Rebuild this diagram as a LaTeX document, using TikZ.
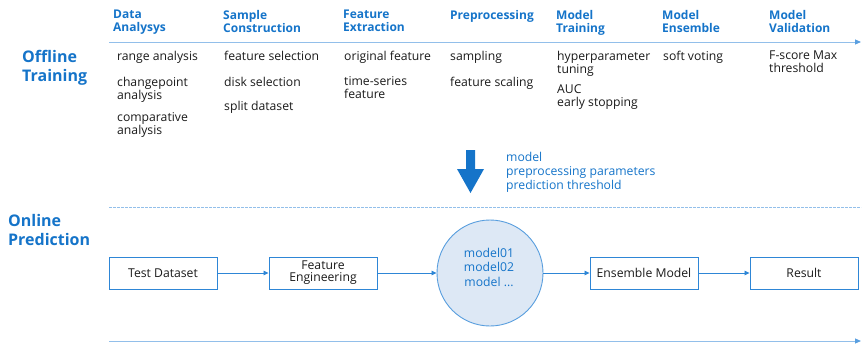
\documentclass[tikz,border=0pt]{standalone}
\usepackage{fontspec}
\setmainfont{Open Sans}
\usetikzlibrary{arrows.meta,shapes.geometric}
\definecolor{hdblue}{HTML}{1574C9}
\definecolor{lineblue}{HTML}{92BFEA}
\definecolor{tipblue}{HTML}{5A9FE0}
\definecolor{boxblue}{HTML}{2E86D6}
\definecolor{circfill}{HTML}{DDE8F5}
\definecolor{bodytext}{HTML}{1A1A1A}
\tikzset{
  hdr/.style={anchor=north west, font=\fontsize{12}{13}\selectfont\bfseries, text=hdblue, align=left, inner sep=0pt},
  side/.style={anchor=north west, font=\fontsize{16}{19.5}\selectfont\bfseries, text=hdblue, align=left, inner sep=0pt},
  item/.style={anchor=north west, font=\fontsize{12.2}{13}\selectfont, text=bodytext, align=left, inner sep=0pt},
  stagebox/.style={draw=boxblue, line width=0.9pt, minimum width=108pt, minimum height=32pt, inner sep=0pt, align=center, text=bodytext, font=\fontsize{12.2}{12}\selectfont},
  flow/.style={draw=boxblue, line width=0.8pt, -{Triangle[length=5pt,width=4.5pt]}},
  axis/.style={draw=lineblue, line width=1pt, -{Triangle[length=6pt,width=5pt,color=tipblue]}},
}
\begin{document}
\begin{tikzpicture}[x=1pt,y=-1pt]
\useasboundingbox (0,0) rectangle (862,343);

% offline training timeline
\coordinate (tl0) at (109,42);
\coordinate (tl1) at (861,42);
\draw[axis] (tl0) -- (tl1);
\node[side] (offline) at (22,50) {Offline\\Training};

% stage headers
\node[hdr] (h1) at (113,10) {Data\\Analysys};
\node[hdr] (h2) at (223,10) {Sample\\Construction};
\node[hdr] (h3) at (343,10) {Feature\\Extraction};
\node[hdr] (h4) at (450,10) {Preprocessing};
\node[hdr] (h5) at (556,10) {Model\\Training};
\node[hdr] (h6) at (662,10) {Model\\Ensemble};
\node[hdr] (h7) at (769,10) {Model\\Validation};

% stage contents
\node[item] (a1) at (117,50.7) {range analysis};
\node[item] (a2) at (117,76.7) {changepoint\\analysis};
\node[item] (a3) at (117,112.7) {comparative\\analysis};
\node[item] (b1) at (224,50.7) {feature selection};
\node[item] (b2) at (224,76.7) {disk selection};
\node[item] (b3) at (224,100.7) {split dataset};
\node[item] (c1) at (344,50.7) {original feature};
\node[item] (c2) at (344,76.7) {time-series\\feature};
\node[item] (d1) at (450,50.7) {sampling};
\node[item] (d2) at (450,76.7) {feature scaling};
\node[item] (e1) at (557,50.7) {hyperparameter\\tuning};
\node[item] (e2) at (557,84.2) {AUC\\early stopping};
\node[item] (f1) at (663,50.7) {soft voting};
\node[item] (g1) at (769,50.7) {F-score Max\\threshold};

% hand-over from training to prediction
\fill[hdblue] (466,150) -- (475,150) -- (475,169) -- (484,169) -- (470.5,193) -- (457,169) -- (466,169) -- cycle;
\node[anchor=north west, inner sep=0pt, text=hdblue, align=left, font=\fontsize{12.2}{14}\selectfont] (handover) at (506,151.7) {model\\preprocessing parameters\\prediction threshold};

% online prediction lanes
\coordinate (dl0) at (109,207);
\coordinate (dl1) at (861,207);
\draw[draw=lineblue, dash pattern=on 2.6pt off 1.4pt, line width=1pt] (dl0) -- (dl1);
\node[side, font=\fontsize{16}{19}\selectfont\bfseries] (online) at (8,213.8) {Online\\Prediction};
\coordinate (bl0) at (109,341);
\coordinate (bl1) at (861,341);
\draw[axis] (bl0) -- (bl1);

% prediction pipeline
\node[stagebox] (test) at (163,273) {Test Dataset};
\node[stagebox] (feat) at (323,273) {Feature\\Engineering};
\node[circle, draw=boxblue!80, fill=circfill, line width=0.9pt, minimum size=106pt, inner sep=0pt] (models) at (490,273) {};
\node[align=center, inner sep=0pt, text=hdblue, font=\fontsize{12.2}{14.5}\selectfont] (modellist) at (489,267) {model01\\model02\\model ...};
\node[stagebox] (ens) at (644,273) {Ensemble Model};
\node[stagebox] (res) at (804,273) {Result};

\draw[flow] (test) -- (feat);
\draw[flow] (feat) -- (models);
\draw[flow] (models) -- (ens);
\draw[flow] (ens) -- (res);
\end{tikzpicture}
\end{document}
